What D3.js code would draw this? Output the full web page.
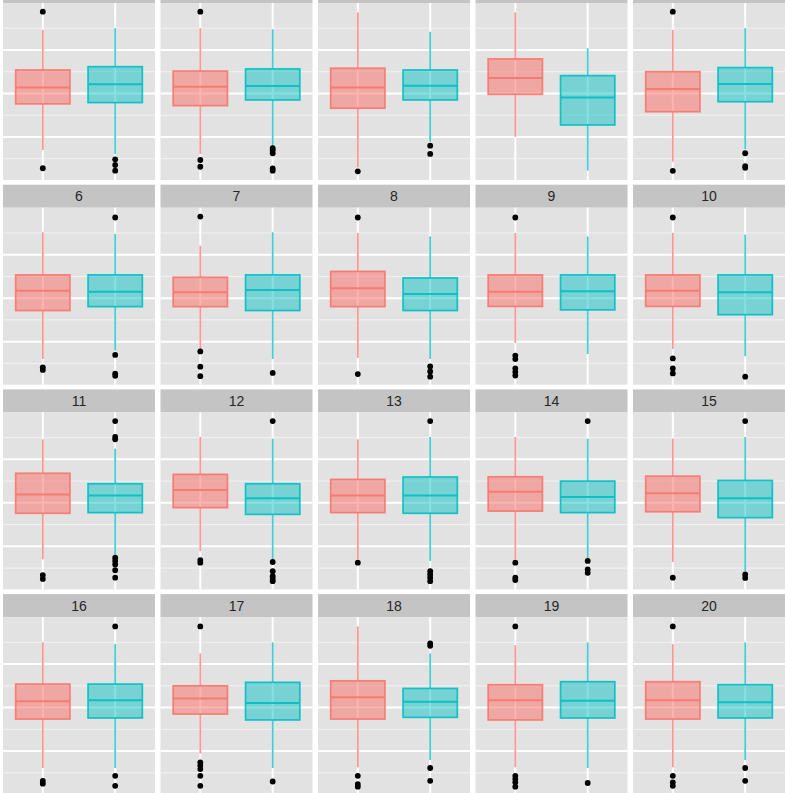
<!DOCTYPE html>
<html>
<head>
<meta charset="utf-8">
<script src="https://d3js.org/d3.v7.min.js"></script>
<style>
  html, body { margin: 0; padding: 0; background: #ffffff; }
  svg { display: block; }
</style>
</head>
<body>
<script>
// ---- data ----
const panelLabels = ["1","2","3","4","5","6","7","8","9","10","11","12","13","14","15","16","17","18","19","20"];
const groups = ["A", "B"];
const groupColors = ["#F8766D", "#00BFC4"];

const redHigh = [2.92, 3.00, 3.73, 3.73, 2.92, 3.03, 2.41, 3.00, 3.00, 3.00, 2.92, 3.03, 2.92, 3.03, 2.95, 3.00, 2.49, 3.73, 2.87, 2.92];
const redQ3   = [1.08, 1.03, 1.16, 1.59, 1.00, 1.07, 0.96, 1.23, 1.07, 1.07, 1.36, 1.31, 1.08, 1.20, 1.23, 1.08, 1.00, 1.23, 1.05, 1.19];
const redMed  = [0.27, 0.31, 0.27, 0.71, 0.21, 0.34, 0.27, 0.45, 0.30, 0.34, 0.38, 0.59, 0.34, 0.51, 0.44, 0.29, 0.42, 0.47, 0.34, 0.34];
const redQ1   = [-0.48, -0.56, -0.68, -0.04, -0.84, -0.57, -0.39, -0.39, -0.38, -0.38, -0.48, -0.22, -0.45, -0.38, -0.41, -0.53, -0.30, -0.53, -0.57, -0.53];
const redLow  = [-2.60, -2.78, -3.40, -1.99, -3.14, -2.80, -2.34, -2.75, -2.06, -2.34, -2.60, -2.22, -2.60, -2.60, -2.72, -2.78, -2.11, -2.75, -2.75, -2.75];
const redOut  = [
  [3.76, -3.44], [3.76, -3.06, -3.37], [-3.58], [], [3.76, -3.56],
  [-3.18, -3.30], [3.75, -2.45, -3.15, -3.59], [3.71, -3.49], [3.71, -2.64, -2.80, -3.23, -3.40, -3.56], [3.71, -2.77, -3.23, -3.46],
  [-3.32, -3.50], [-2.63, -2.75], [-2.75], [-2.75, -3.44, -3.55], [-3.44],
  [-3.37, -3.50], [3.73, -2.52, -2.67, -2.83, -3.14, -3.60], [-3.14, -3.52, -3.64], [3.73, -3.14, -3.29, -3.44, -3.64], [3.73, -3.14, -3.44, -3.60]
];

const tealHigh = [3.00, 2.95, 2.84, 2.08, 3.00, 2.95, 3.03, 2.84, 2.84, 2.92, 2.49, 2.95, 3.03, 2.95, 3.03, 2.92, 3.00, 2.49, 3.00, 3.00];
const tealQ3   = [1.23, 1.13, 1.08, 0.82, 1.19, 1.07, 1.07, 0.93, 1.07, 1.07, 0.88, 0.88, 1.19, 1.00, 1.03, 1.08, 1.16, 0.88, 1.19, 1.05];
const tealMed  = [0.42, 0.34, 0.36, -0.19, 0.44, 0.30, 0.38, 0.19, 0.32, 0.27, 0.34, 0.21, 0.34, 0.27, 0.21, 0.34, 0.21, 0.27, 0.31, 0.24];
const tealQ1   = [-0.42, -0.30, -0.30, -1.45, -0.38, -0.39, -0.57, -0.57, -0.54, -0.76, -0.45, -0.53, -0.48, -0.45, -0.68, -0.48, -0.57, -0.45, -0.48, -0.48];
const tealLow  = [-2.78, -2.45, -2.22, -3.55, -2.57, -2.41, -2.80, -2.80, -2.57, -2.67, -2.45, -2.60, -2.67, -2.57, -3.14, -2.78, -2.78, -2.41, -2.78, -2.41];
const tealOut  = [
  [-3.03, -3.29, -3.55], [-2.52, -2.62, -2.75, -3.45, -3.55], [-2.40, -2.78], [], [-2.75, -3.34, -3.42],
  [3.71, -2.61, -3.47, -3.57], [-3.44], [-3.14, -3.37, -3.61], [], [-3.61],
  [3.76, 3.03, 2.92, -2.52, -2.67, -2.83, -3.10, -3.44], [3.76, -2.72, -3.14, -3.37, -3.50, -3.60], [3.76, -3.14, -3.29, -3.44, -3.60], [3.76, -2.67, -3.06, -3.22], [3.76, -3.29, -3.45],
  [3.73, -3.14, -3.60], [-3.40], [2.95, 2.84, -2.78, -3.37], [-3.47], [-2.78, -3.37]
];

const yMajorTicks = [-2, 0, 2];
const yMinorTicks = [-3, -1, 1, 3];

// ---- layout ----
const W = 785, H = 793;
const nCols = 5;
const panelW = 152, panelH = 177, stripH = 23;
const colX0 = 3, colPitch = 157.5;
const rowY0 = 3, rowPitch = 204.7;
const fillOpacity = [0.55, 0.47];

const svg = d3.select("body").append("svg")
  .attr("width", W).attr("height", H);
svg.append("rect").attr("width", W).attr("height", H).attr("fill", "#ffffff");

const x = d3.scaleLinear().domain([0.45, 2.55]).range([0, panelW]);
const y = d3.scaleLinear().domain([-3.98, 4.16]).range([panelH, 0]);
const boxHalf = (x(1.375) - x(1));

const stats = [
  { high: redHigh, q3: redQ3, med: redMed, q1: redQ1, low: redLow, out: redOut },
  { high: tealHigh, q3: tealQ3, med: tealMed, q1: tealQ1, low: tealLow, out: tealOut }
];

panelLabels.forEach((lab, i) => {
  const col = i % nCols, row = Math.floor(i / nCols);
  const px = colX0 + col * colPitch;
  const py = rowY0 + row * rowPitch;
  const g = svg.append("g").attr("transform", `translate(${px},${py})`);

  // strip
  g.append("rect").attr("x", 0).attr("y", -stripH).attr("width", panelW).attr("height", stripH)
    .attr("fill", "#C4C4C4");
  g.append("text").attr("x", panelW / 2).attr("y", -stripH / 2).attr("dy", "0.36em")
    .attr("text-anchor", "middle")
    .attr("font-family", "'Liberation Sans', Arial, Helvetica, sans-serif")
    .attr("font-size", 14).attr("fill", "#262626").text(lab);

  // panel background
  g.append("rect").attr("width", panelW).attr("height", panelH).attr("fill", "#E2E2E2");

  // grid
  g.selectAll(".minor").data(yMinorTicks).enter().append("line")
    .attr("x1", 0).attr("x2", panelW)
    .attr("y1", d => y(d)).attr("y2", d => y(d))
    .attr("stroke", "#F2F2F2").attr("stroke-width", 1);
  g.selectAll(".major").data(yMajorTicks).enter().append("line")
    .attr("x1", 0).attr("x2", panelW)
    .attr("y1", d => y(d)).attr("y2", d => y(d))
    .attr("stroke", "#FFFFFF").attr("stroke-width", 2);
  g.selectAll(".vmajor").data([1, 2]).enter().append("line")
    .attr("x1", d => x(d)).attr("x2", d => x(d))
    .attr("y1", 0).attr("y2", panelH)
    .attr("stroke", "#FFFFFF").attr("stroke-width", 2);

  // boxplots
  stats.forEach((s, gi) => {
    const cx = x(gi + 1);
    const color = groupColors[gi];
    // whiskers
    g.append("line").attr("x1", cx).attr("x2", cx)
      .attr("y1", y(s.high[i])).attr("y2", y(s.q3[i]))
      .attr("stroke", color).attr("stroke-width", 1.8).attr("stroke-opacity", 0.75);
    g.append("line").attr("x1", cx).attr("x2", cx)
      .attr("y1", y(s.q1[i])).attr("y2", y(s.low[i]))
      .attr("stroke", color).attr("stroke-width", 1.8).attr("stroke-opacity", 0.75);
    // box
    g.append("rect")
      .attr("x", cx - boxHalf).attr("width", 2 * boxHalf)
      .attr("y", y(s.q3[i])).attr("height", y(s.q1[i]) - y(s.q3[i]))
      .attr("fill", color).attr("fill-opacity", fillOpacity[gi])
      .attr("stroke", color).attr("stroke-width", 1.7).attr("stroke-opacity", 0.9);
    // median
    g.append("line")
      .attr("x1", cx - boxHalf).attr("x2", cx + boxHalf)
      .attr("y1", y(s.med[i])).attr("y2", y(s.med[i]))
      .attr("stroke", color).attr("stroke-width", 2).attr("stroke-opacity", 0.9);
    // outliers
    g.selectAll(null).data(s.out[i]).enter().append("circle")
      .attr("cx", cx).attr("cy", d => y(d)).attr("r", 2.9)
      .attr("fill", "#000000");
  });
});
</script>
</body>
</html>
